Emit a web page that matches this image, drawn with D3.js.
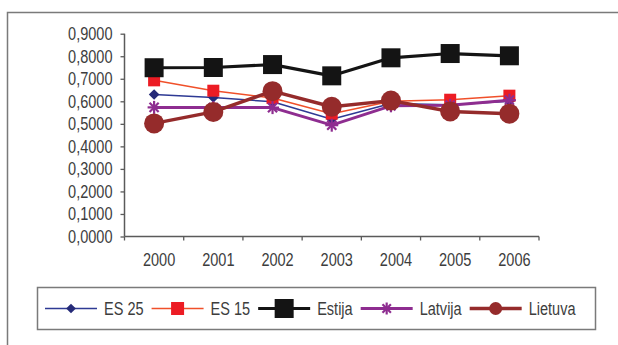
<!DOCTYPE html>
<html><head><meta charset="utf-8">
<script src="https://cdn.jsdelivr.net/npm/d3@7"></script>
<style>html,body{margin:0;padding:0;background:#fff;}svg{display:block;}</style>
</head><body>
<svg id="c" width="618" height="345"></svg>
<script>
const years = ["2000","2001","2002","2003","2004","2005","2006"];
const yTicks = [0,0.1,0.2,0.3,0.4,0.5,0.6,0.7,0.8,0.9];
const seriesNames = ["ES 25","ES 15","Estija","Latvija","Lietuva"];
const es25    = [0.630,0.617,0.598,0.520,0.590,0.585,0.600];
const es15    = [0.693,0.647,0.615,0.545,0.600,0.607,0.625];
const estija  = [0.749,0.750,0.763,0.713,0.793,0.812,0.802];
const latvija = [0.573,0.572,0.572,0.494,0.580,0.582,0.605];
const lietuva = [0.502,0.553,0.645,0.576,0.603,0.555,0.545];

const svg = d3.select("#c");
const W = 618, H = 345;
const FONT = "'Liberation Sans', Arial, sans-serif";
const TXT = "#3d3d3d";
const NARROW = 0.83;

function narrow(sel){
  sel.each(function(){
    const n = this.getComputedTextLength();
    d3.select(this).attr("textLength", n*NARROW).attr("lengthAdjust","spacingAndGlyphs");
  });
}

// frame (top and left edges)
svg.append("path").attr("d", d3.line()([[7.5,H],[7.5,12.5],[W,12.5]]))
  .attr("fill","none").attr("stroke","#7a7a7a").attr("stroke-width",1.5);

const x = d3.scaleBand().domain(years).range([124.5,539]);
const y = d3.scaleLinear().domain([0,0.9]).range([236.5,33.7]);

// axes
const yAxis = svg.append("g").attr("transform","translate(124.5,0)")
  .call(d3.axisLeft(y).tickValues(yTicks).tickSize(4).tickPadding(8)
    .tickFormat(d => d3.format(".4f")(d).replace(".",",")));
const xAxis = svg.append("g").attr("transform","translate(0,236.5)")
  .call(d3.axisBottom(x).tickSize(0).tickFormat(""));
[yAxis,xAxis].forEach(g=>{
  g.select(".domain").attr("stroke","#5a5a5a").attr("stroke-width",1.5);
  g.selectAll(".tick line").attr("stroke","#5a5a5a").attr("stroke-width",1.3);
});
yAxis.select(".domain").attr("d","M0,33.7V236.5");
// x tick marks at band boundaries
const bounds = years.map(d=>x(d)).concat([x.range()[1]]);
xAxis.selectAll(".bt").data(bounds).join("line").attr("class","bt")
  .attr("x1",d=>d).attr("x2",d=>d).attr("y1",0).attr("y2",4)
  .attr("stroke","#5a5a5a").attr("stroke-width",1.3);
xAxis.select(".domain").attr("d","M124.5,0H539");

yAxis.selectAll(".tick text").attr("font-family",FONT).attr("font-size",17.5)
  .attr("fill",TXT).attr("dy","0.34em").call(narrow);

svg.append("g").selectAll("text").data(years).join("text")
  .attr("x",d=>x(d)+x.bandwidth()/2+5).attr("y",266)
  .attr("text-anchor","middle").attr("font-family",FONT).attr("font-size",17.5)
  .attr("fill",TXT).text(d=>d).call(narrow);

// marker drawing helpers
function marker(g, type, size, color){
  if(type==="diamond"){
    g.append("path").attr("d",d3.symbol(d3.symbolDiamond2, size*size*0.5)())
      .attr("fill",color);
  } else if(type==="square"){
    g.append("rect").attr("x",-size/2).attr("y",-size/2).attr("width",size).attr("height",size)
      .attr("fill",color);
  } else if(type==="circle"){
    g.append("circle").attr("r",size/2).attr("fill",color);
  } else if(type==="star"){
    const r = size/2;
    const p = [[-r,0,r,0],[0,-r,0,r],[-r*0.7,-r*0.7,r*0.7,r*0.7],[-r*0.7,r*0.7,r*0.7,-r*0.7]];
    p.forEach(a=>g.append("line").attr("x1",a[0]).attr("y1",a[1]).attr("x2",a[2]).attr("y2",a[3])
      .attr("stroke",color).attr("stroke-width",2.2));
  }
}

const series = [
  {name:seriesNames[0], vals:es25,    line:"#2e3a94", mk:"#252a78", type:"diamond", ms:12, lms:11, lw:1.5},
  {name:seriesNames[1], vals:es15,    line:"#f0502a", mk:"#ec1c24", type:"square",  ms:12, lms:13, lw:1.5},
  {name:seriesNames[2], vals:estija,  line:"#141414", mk:"#141414", type:"square",  ms:19, lms:19, lw:3.2},
  {name:seriesNames[3], vals:latvija, line:"#8e2d90", mk:"#8e2d90", type:"star",    ms:13, lms:12, lw:3},
  {name:seriesNames[4], vals:lietuva, line:"#952b2b", mk:"#952b2b", type:"circle",  ms:20, lms:13, lw:3.5}
];

const cx = d => x(d)+x.bandwidth()/2;
series.forEach(s=>{
  const pts = s.vals.map((v,i)=>[cx(years[i]), y(v)]);
  svg.append("path").attr("d",d3.line()(pts)).attr("fill","none")
    .attr("stroke",s.line).attr("stroke-width",s.lw).attr("stroke-linejoin","round");
  pts.forEach(p=>{
    const g = svg.append("g").attr("transform",`translate(${p[0]},${p[1]})`);
    marker(g,s.type,s.ms,s.mk);
  });
});

// legend
svg.append("rect").attr("x",37.5).attr("y",287.5).attr("width",558).attr("height",42)
  .attr("fill","#fff").attr("stroke","#7a7a7a").attr("stroke-width",1.5);
let lx = 45; const ly = 308.5;
series.forEach(s=>{
  const g = svg.append("g");
  g.append("line").attr("x1",lx).attr("x2",lx+52).attr("y1",ly).attr("y2",ly)
    .attr("stroke",s.line).attr("stroke-width",s.lw);
  const m = g.append("g").attr("transform",`translate(${lx+26},${ly})`);
  marker(m,s.type,s.lms,s.mk);
  const t = g.append("text").attr("x",lx+59).attr("y",ly+6.3).attr("font-family",FONT)
    .attr("font-size",17.5).attr("fill",TXT).text(s.name).call(narrow);
  lx = lx + 59 + (+t.attr("textLength")) + 8;
});
</script>
</body></html>
